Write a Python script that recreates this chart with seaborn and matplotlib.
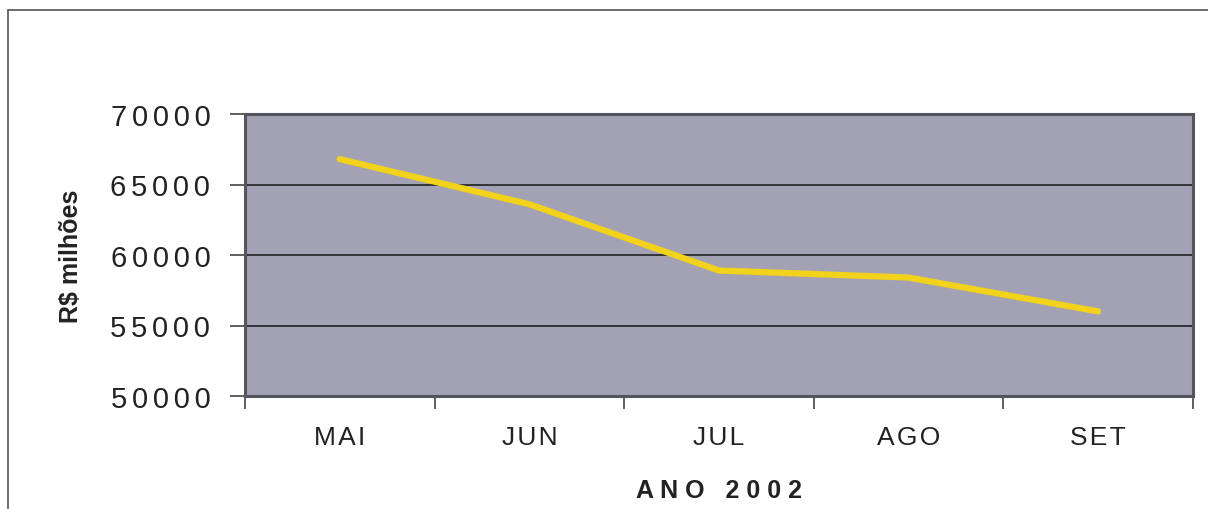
import matplotlib
matplotlib.use("Agg")
import matplotlib.pyplot as plt
from matplotlib.lines import Line2D
import seaborn as sns
import pandas as pd

months = ["MAI", "JUN", "JUL", "AGO", "SET"]
values = [66800, 63600, 58900, 58400, 56000]
y_ticks = [50000, 55000, 60000, 65000, 70000]
x_title = "A N O   2 0 0 2"
y_title = "R$ milhões"

sns.set_theme(style="white")
plt.rcParams["font.family"] = ["Liberation Sans", "DejaVu Sans"]

W, H = 1208, 510
fig = plt.figure(figsize=(W / 100, H / 100), dpi=100)
fig.patch.set_facecolor("white")
ax = fig.add_axes([245 / W, 1 - 397 / H, (1193 - 245) / W, (397 - 115) / H])
ax.set_facecolor("#a2a2b4")

df = pd.DataFrame({"mes": months, "valor": values})

for yv in y_ticks[1:-1]:
    ax.axhline(yv, color="#2a2a30", lw=1.3, zorder=1)

sns.lineplot(data=df, x="mes", y="valor", ax=ax, color="#f2d21a", lw=4.5,
             sort=False, zorder=3)

ax.set_xlim(-0.5, len(months) - 0.5)
ax.set_ylim(y_ticks[0], y_ticks[-1])

def spaced(s, sep="\u200a"):
    return sep.join(list(s))

# category boundaries carry the tick marks, labels sit between them
ax.set_xticks([i - 0.5 for i in range(len(months) + 1)])
ax.set_xticklabels([])
ax.set_xticks(range(len(months)), minor=True)
ax.set_xticklabels([spaced(m) for m in months], minor=True, fontsize=19,
                   color="#222222")
ax.tick_params(axis="x", which="major", length=9, width=1.2, color="#444444",
               direction="out", bottom=True)
ax.tick_params(axis="x", which="minor", length=0, pad=21, bottom=True)

ax.set_yticks(y_ticks)
ax.set_yticklabels([spaced(str(v), "\u200a" * 2) for v in y_ticks], fontsize=21,
                   color="#222222")
ax.tick_params(axis="y", length=11, width=1.2, color="#444444",
               direction="out", left=True, pad=14)

for sp in ax.spines.values():
    sp.set_visible(True)
    sp.set_color("#555560")
    sp.set_linewidth(2.2)

ax.set_xlabel(x_title, fontsize=18, fontweight="bold", color="#222222",
              labelpad=21)
ax.set_ylabel(y_title, fontsize=18, fontweight="bold", color="#222222",
              labelpad=20)
ax.grid(False)

# outer chart frame
fig.add_artist(Line2D([8 / W, 8 / W], [0, 1 - 11 / H], transform=fig.transFigure,
                      color="#555555", lw=1.2))
fig.add_artist(Line2D([8 / W, 1], [1 - 11 / H, 1 - 11 / H],
                      transform=fig.transFigure, color="#555555", lw=1.2))

fig.savefig("out.png", dpi=100, facecolor="white")
